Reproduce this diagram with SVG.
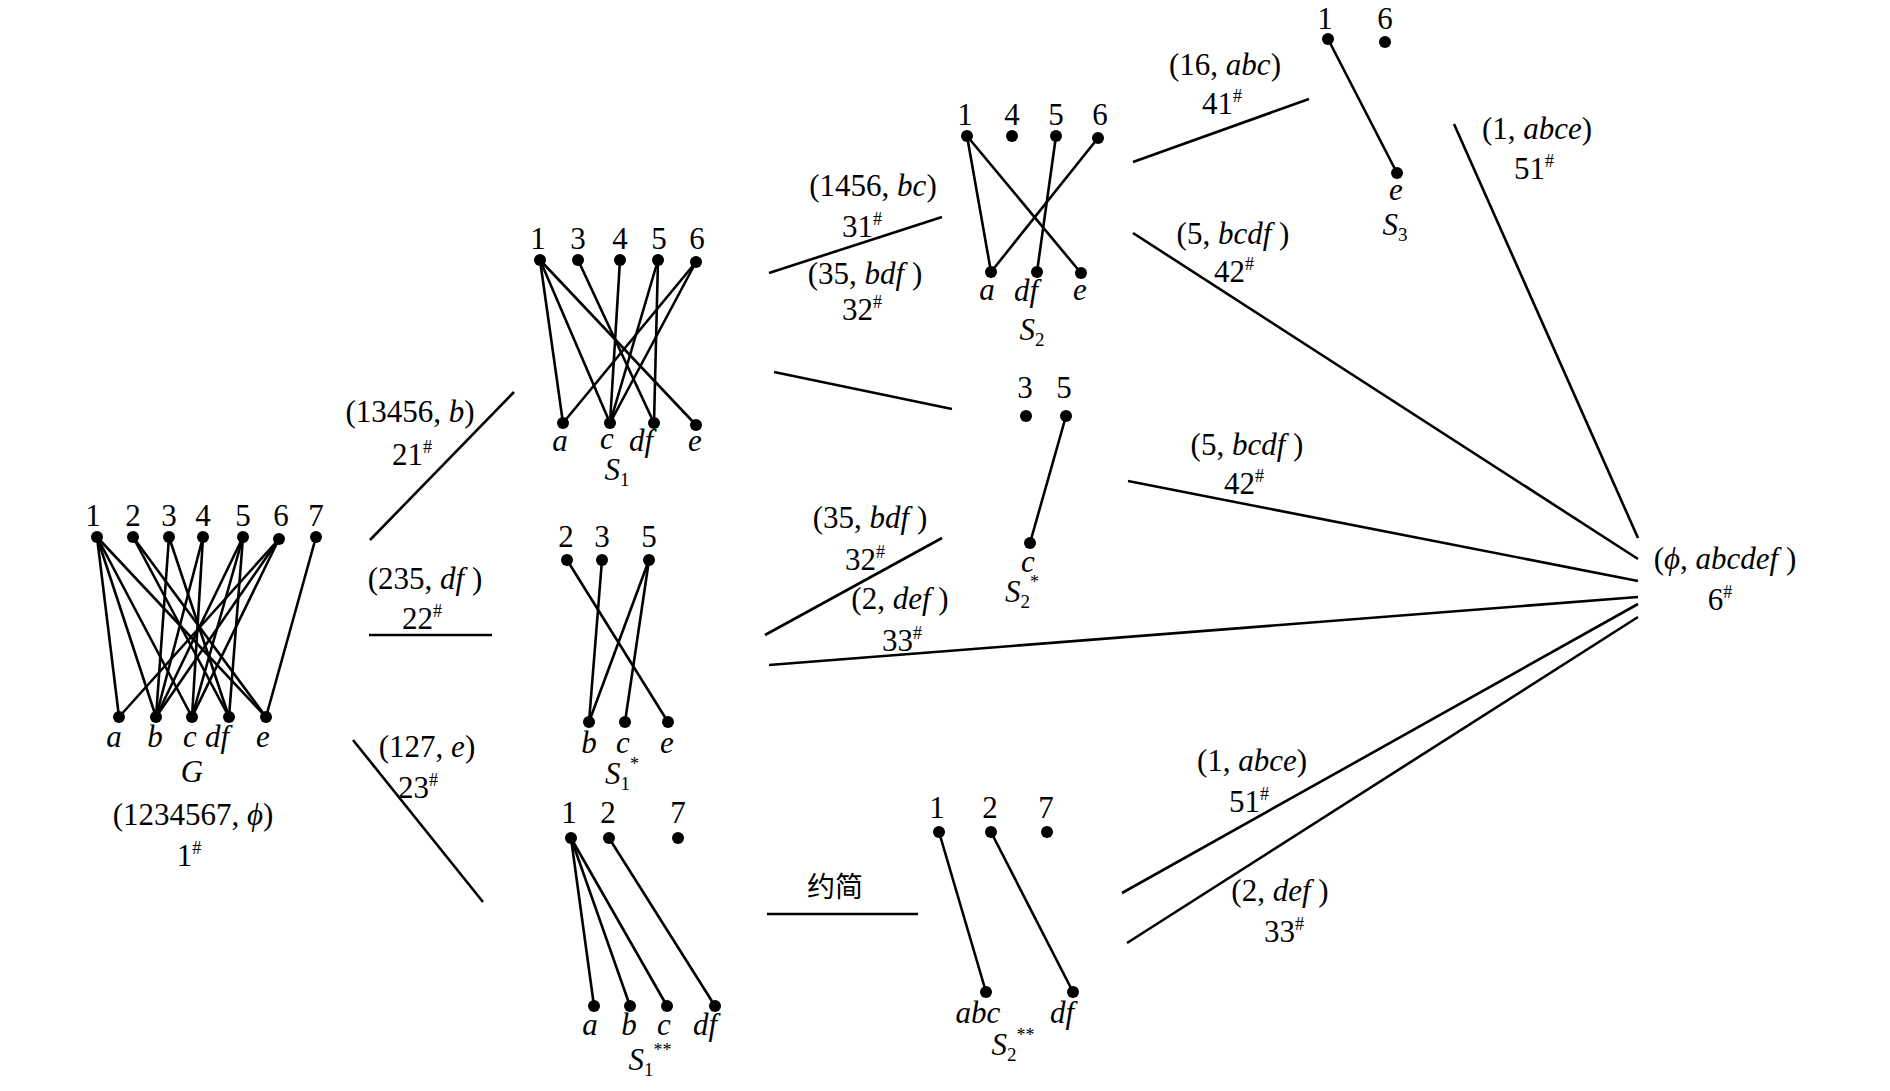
<svg xmlns="http://www.w3.org/2000/svg" width="1890" height="1091" viewBox="0 0 1890 1091">
<style>
line{stroke:#000;stroke-width:2.6;stroke-linecap:butt}
circle{fill:#000}
text{font-family:"Liberation Serif","Times New Roman",serif;font-size:31px;fill:#000;text-anchor:middle}
.i{font-style:italic}
.sup{font-size:18px}
.sub{font-size:19px}
.cjk{font-family:"Liberation Serif","Noto Sans CJK SC",serif;font-size:28px}
</style>
<rect width="1890" height="1091" fill="#fff"/>

<g id="G">
<g>
<line x1="97" y1="537" x2="119" y2="717"/><line x1="97" y1="537" x2="156" y2="717"/><line x1="97" y1="537" x2="192" y2="717"/><line x1="97" y1="537" x2="266" y2="717"/>
<line x1="133" y1="537" x2="229" y2="717"/><line x1="133" y1="537" x2="266" y2="717"/>
<line x1="169" y1="537" x2="156" y2="717"/><line x1="169" y1="537" x2="229" y2="717"/>
<line x1="203" y1="537" x2="156" y2="717"/><line x1="203" y1="537" x2="192" y2="717"/>
<line x1="243" y1="537" x2="156" y2="717"/><line x1="243" y1="537" x2="192" y2="717"/><line x1="243" y1="537" x2="229" y2="717"/>
<line x1="279" y1="539" x2="119" y2="717"/><line x1="279" y1="539" x2="156" y2="717"/><line x1="279" y1="539" x2="192" y2="717"/>
<line x1="316" y1="537" x2="266" y2="717"/>
</g>
<circle cx="97" cy="537" r="6"/><circle cx="133" cy="537" r="6"/><circle cx="169" cy="537" r="6"/><circle cx="203" cy="537" r="6"/><circle cx="243" cy="537" r="6"/><circle cx="279" cy="539" r="6"/><circle cx="316" cy="537" r="6"/>
<circle cx="119" cy="717" r="6"/><circle cx="156" cy="717" r="6"/><circle cx="192" cy="717" r="6"/><circle cx="229" cy="717" r="6"/><circle cx="266" cy="717" r="6"/>
<text x="93" y="526">1</text><text x="133" y="526">2</text><text x="169" y="526">3</text><text x="203" y="526">4</text><text x="243" y="526">5</text><text x="281" y="526">6</text><text x="316" y="526">7</text>
<text class="i" x="114" y="747">a</text><text class="i" x="155" y="747">b</text><text class="i" x="190" y="747">c</text><text class="i" x="217" y="747">df</text><text class="i" x="263" y="747">e</text>
<text class="i" x="192" y="782">G</text>
<text x="193" y="825">(1234567, <tspan class="i">ϕ</tspan>)</text>
<text x="189" y="866">1<tspan class="sup" dy="-12">#</tspan></text>
</g>

<g id="S1">
<line x1="540" y1="260" x2="563" y2="423"/><line x1="540" y1="260" x2="610" y2="423"/><line x1="540" y1="260" x2="696" y2="425"/>
<line x1="578" y1="260" x2="654" y2="423"/>
<line x1="620" y1="260" x2="610" y2="423"/>
<line x1="658" y1="260" x2="610" y2="423"/><line x1="658" y1="260" x2="654" y2="423"/>
<line x1="696" y1="262" x2="563" y2="423"/><line x1="696" y1="262" x2="610" y2="423"/>
<circle cx="540" cy="260" r="6"/><circle cx="578" cy="260" r="6"/><circle cx="620" cy="260" r="6"/><circle cx="658" cy="260" r="6"/><circle cx="696" cy="262" r="6"/>
<circle cx="563" cy="423" r="6"/><circle cx="610" cy="423" r="6"/><circle cx="654" cy="423" r="6"/><circle cx="696" cy="425" r="6"/>
<text x="538" y="249">1</text><text x="578" y="249">3</text><text x="620" y="249">4</text><text x="659" y="249">5</text><text x="697" y="249">6</text>
<text class="i" x="560" y="451">a</text><text class="i" x="607" y="449">c</text><text class="i" x="641" y="451">df</text><text class="i" x="695" y="451">e</text>
<text x="617" y="480"><tspan class="i">S</tspan><tspan class="sub" dy="6">1</tspan></text>
</g>

<g id="S1star">
<line x1="567" y1="560" x2="668" y2="722"/><line x1="602" y1="560" x2="589" y2="722"/><line x1="649" y1="560" x2="589" y2="722"/><line x1="649" y1="560" x2="625" y2="722"/>
<circle cx="567" cy="560" r="6"/><circle cx="602" cy="560" r="6"/><circle cx="649" cy="560" r="6"/>
<circle cx="589" cy="722" r="6"/><circle cx="625" cy="722" r="6"/><circle cx="668" cy="722" r="6"/>
<text x="566" y="547">2</text><text x="602" y="547">3</text><text x="649" y="547">5</text>
<text class="i" x="589" y="753">b</text><text class="i" x="623" y="753">c</text><text class="i" x="667" y="753">e</text>
<text x="622" y="784"><tspan class="i">S</tspan><tspan class="sub" dy="6">1</tspan><tspan class="sup" dy="-20">*</tspan></text>
</g>

<g id="S1starstar">
<line x1="571" y1="838" x2="594" y2="1006"/><line x1="571" y1="838" x2="630" y2="1006"/><line x1="571" y1="838" x2="667" y2="1006"/><line x1="609" y1="838" x2="715" y2="1006"/>
<circle cx="571" cy="838" r="6"/><circle cx="609" cy="838" r="6"/><circle cx="678" cy="838" r="6"/>
<circle cx="594" cy="1006" r="6"/><circle cx="630" cy="1006" r="6"/><circle cx="667" cy="1006" r="6"/><circle cx="715" cy="1006" r="6"/>
<text x="569" y="823">1</text><text x="608" y="823">2</text><text x="678" y="823">7</text>
<text class="i" x="590" y="1035">a</text><text class="i" x="629" y="1035">b</text><text class="i" x="664" y="1035">c</text><text class="i" x="705" y="1035">df</text>
<text x="650" y="1070"><tspan class="i">S</tspan><tspan class="sub" dy="6">1</tspan><tspan class="sup" dy="-20">**</tspan></text>
</g>

<g id="S2">
<line x1="967" y1="136" x2="991" y2="272"/><line x1="967" y1="136" x2="1081" y2="273"/><line x1="1056" y1="136" x2="1037" y2="272"/><line x1="1098" y1="138" x2="991" y2="272"/>
<circle cx="967" cy="136" r="6"/><circle cx="1012" cy="136" r="6"/><circle cx="1056" cy="136" r="6"/><circle cx="1098" cy="138" r="6"/>
<circle cx="991" cy="272" r="6"/><circle cx="1037" cy="272" r="6"/><circle cx="1081" cy="273" r="6"/>
<text x="965" y="125">1</text><text x="1012" y="125">4</text><text x="1056" y="125">5</text><text x="1100" y="125">6</text>
<text class="i" x="987" y="300">a</text><text class="i" x="1026" y="301">df</text><text class="i" x="1080" y="300">e</text>
<text x="1032" y="340"><tspan class="i">S</tspan><tspan class="sub" dy="6">2</tspan></text>
</g>

<g id="S2star">
<line x1="1066" y1="416" x2="1030" y2="543"/>
<circle cx="1026" cy="416" r="6"/><circle cx="1066" cy="416" r="6"/><circle cx="1030" cy="543" r="6"/>
<text x="1025" y="398">3</text><text x="1064" y="398">5</text>
<text class="i" x="1028" y="572">c</text>
<text x="1022" y="602"><tspan class="i">S</tspan><tspan class="sub" dy="6">2</tspan><tspan class="sup" dy="-20">*</tspan></text>
</g>

<g id="S2starstar">
<line x1="939" y1="832" x2="986" y2="992"/><line x1="991" y1="832" x2="1073" y2="992"/>
<circle cx="939" cy="832" r="6"/><circle cx="991" cy="832" r="6"/><circle cx="1047" cy="832" r="6"/>
<circle cx="986" cy="992" r="6"/><circle cx="1073" cy="992" r="6"/>
<text x="937" y="818">1</text><text x="990" y="818">2</text><text x="1046" y="818">7</text>
<text class="i" x="978" y="1023">abc</text><text class="i" x="1062" y="1023">df</text>
<text x="1013" y="1055"><tspan class="i">S</tspan><tspan class="sub" dy="6">2</tspan><tspan class="sup" dy="-20">**</tspan></text>
</g>

<g id="S3">
<line x1="1328" y1="39" x2="1397" y2="173"/>
<circle cx="1328" cy="39" r="6"/><circle cx="1385" cy="42" r="6"/><circle cx="1397" cy="173" r="6"/>
<text x="1325" y="29">1</text><text x="1385" y="29">6</text>
<text class="i" x="1396" y="200">e</text>
<text x="1395" y="235"><tspan class="i">S</tspan><tspan class="sub" dy="6">3</tspan></text>
</g>

<g id="N6">
<text x="1725" y="569">(<tspan class="i">ϕ</tspan>, <tspan class="i">abcdef</tspan> )</text>
<text x="1720" y="610">6<tspan class="sup" dy="-12">#</tspan></text>
</g>

<g id="connectors">
<line x1="370" y1="540" x2="514" y2="392"/>
<line x1="369" y1="635" x2="492" y2="635"/>
<line x1="353" y1="740" x2="483" y2="902"/>
<line x1="769" y1="273" x2="942" y2="217"/>
<line x1="774" y1="372" x2="952" y2="409"/>
<line x1="765" y1="635" x2="942" y2="538"/>
<line x1="769" y1="665" x2="1638" y2="597"/>
<line x1="767" y1="914" x2="918" y2="914"/>
<line x1="1133" y1="162" x2="1309" y2="99"/>
<line x1="1133" y1="233" x2="1638" y2="559"/>
<line x1="1454" y1="124" x2="1638" y2="538"/>
<line x1="1128" y1="481" x2="1638" y2="581"/>
<line x1="1122" y1="893" x2="1638" y2="604"/>
<line x1="1127" y1="943" x2="1638" y2="617"/>
</g>

<g id="edge-labels">
<text x="410" y="422">(13456, <tspan class="i">b</tspan>)</text>
<text x="412" y="465">21<tspan class="sup" dy="-12">#</tspan></text>
<text x="425" y="589">(235, <tspan class="i">df</tspan> )</text>
<text x="422" y="629">22<tspan class="sup" dy="-12">#</tspan></text>
<text x="427" y="757">(127, <tspan class="i">e</tspan>)</text>
<text x="418" y="798">23<tspan class="sup" dy="-12">#</tspan></text>
<text x="873" y="196">(1456, <tspan class="i">bc</tspan>)</text>
<text x="862" y="237">31<tspan class="sup" dy="-12">#</tspan></text>
<text x="865" y="284">(35, <tspan class="i">bdf</tspan> )</text>
<text x="862" y="320">32<tspan class="sup" dy="-12">#</tspan></text>
<text x="870" y="528">(35, <tspan class="i">bdf</tspan> )</text>
<text x="865" y="570">32<tspan class="sup" dy="-12">#</tspan></text>
<text x="900" y="609">(2, <tspan class="i">def</tspan> )</text>
<text x="902" y="651">33<tspan class="sup" dy="-12">#</tspan></text>
<text class="cjk" x="835" y="897">约简</text>
<text x="1225" y="75">(16, <tspan class="i">abc</tspan>)</text>
<text x="1222" y="114">41<tspan class="sup" dy="-12">#</tspan></text>
<text x="1233" y="244">(5, <tspan class="i">bcdf</tspan> )</text>
<text x="1234" y="282">42<tspan class="sup" dy="-12">#</tspan></text>
<text x="1537" y="139">(1, <tspan class="i">abce</tspan>)</text>
<text x="1534" y="179">51<tspan class="sup" dy="-12">#</tspan></text>
<text x="1247" y="455">(5, <tspan class="i">bcdf</tspan> )</text>
<text x="1244" y="494">42<tspan class="sup" dy="-12">#</tspan></text>
<text x="1252" y="771">(1, <tspan class="i">abce</tspan>)</text>
<text x="1249" y="812">51<tspan class="sup" dy="-12">#</tspan></text>
<text x="1280" y="901">(2, <tspan class="i">def</tspan> )</text>
<text x="1284" y="942">33<tspan class="sup" dy="-12">#</tspan></text>
</g>
</svg>
